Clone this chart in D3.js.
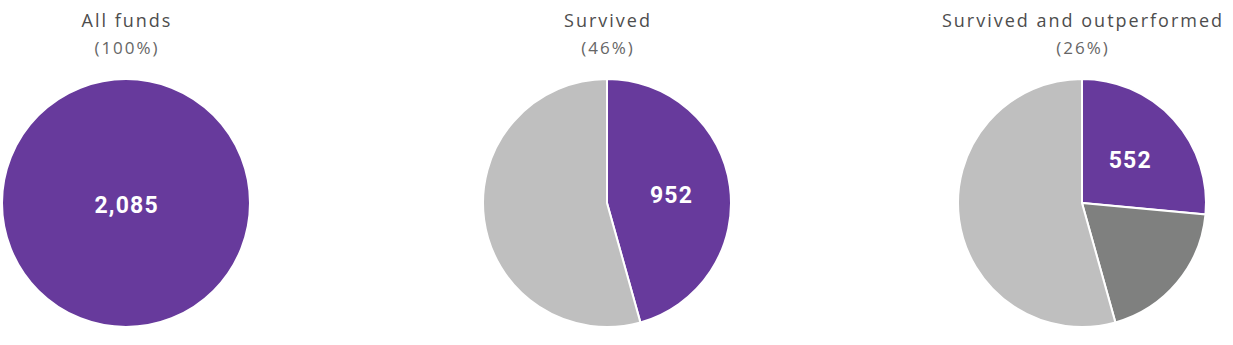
<!DOCTYPE html>
<html>
<head>
<meta charset="utf-8">
<script src="https://cdn.jsdelivr.net/npm/d3@7"></script>
<style>
  body { margin: 0; background: #fff; }
  text { font-family: Roboto, "Open Sans", sans-serif; }
  .title, .share { font-family: "Open Sans", Roboto, sans-serif; }
</style>
</head>
<body>
<div class="chart"></div>
<script>
// values
var titles = ['All funds', 'Survived', 'Survived and outperformed'];
var shares = ['(100%)', '(46%)', '(26%)'];
var labels = ['2,085', '952', '552'];
var allFunds = [2085];
var survived = [952, 1133];
var outperformed = [552, 400, 1133];
var colours = ['#673a9c', '#bfbfbf', '#7f807f'];
var slices = [
  [{ v: allFunds[0], c: 0 }],
  [{ v: survived[0], c: 0 }, { v: survived[1], c: 1 }],
  [{ v: outperformed[0], c: 0 }, { v: outperformed[1], c: 2 }, { v: outperformed[2], c: 1 }]
];

var width = 1233, height = 345, r = 124;
var centres = [126, 607, 1082];

const svg = d3.select('.chart')
  .append('svg')
    .attr('width', width)
    .attr('height', height);

const pie = d3.pie().sort(null).value(d => d.v);
const arc = d3.arc().innerRadius(0).outerRadius(r);
const labelArc = d3.arc().innerRadius(0).outerRadius(r * 1.04);

const groups = svg.selectAll('g')
  .data(slices)
  .enter()
    .append('g')
    .attr('transform', (d, i) => 'translate(' + centres[i] + ', 203)');

groups.selectAll('path')
  .data(d => pie(d))
  .enter()
    .append('path')
    .attr('d', arc)
    .attr('fill', d => colours[d.data.c])
    .attr('stroke', '#fff')
    .attr('stroke-width', 2);

// number on the purple slice
groups.append('text')
  .attr('transform', (d, i) => {
    var p = pie(d)[0];
    if (i === 0) return 'translate(0, 2)';
    return 'translate(' + labelArc.centroid(p) + ')';
  })
  .attr('text-anchor', 'middle')
  .attr('dx', 0.6)
  .attr('dy', '0.36em')
  .attr('fill', '#fff')
  .style('font-size', '23px')
  .style('font-weight', 'bold')
  .style('letter-spacing', '1.2px')
  .text((d, i) => labels[i]);

groups.append('text')
  .attr('class', 'title')
  .attr('y', -176)
  .attr('dx', 1)
  .attr('text-anchor', 'middle')
  .attr('fill', '#4d4d4d')
  .style('font-size', '18px')
  .style('letter-spacing', '2px')
  .text((d, i) => titles[i]);

groups.append('text')
  .attr('class', 'share')
  .attr('y', -149)
  .attr('dx', 1)
  .attr('text-anchor', 'middle')
  .attr('fill', '#666')
  .style('font-size', '17px')
  .style('letter-spacing', '2px')
  .text((d, i) => shares[i]);
</script>
</body>
</html>
